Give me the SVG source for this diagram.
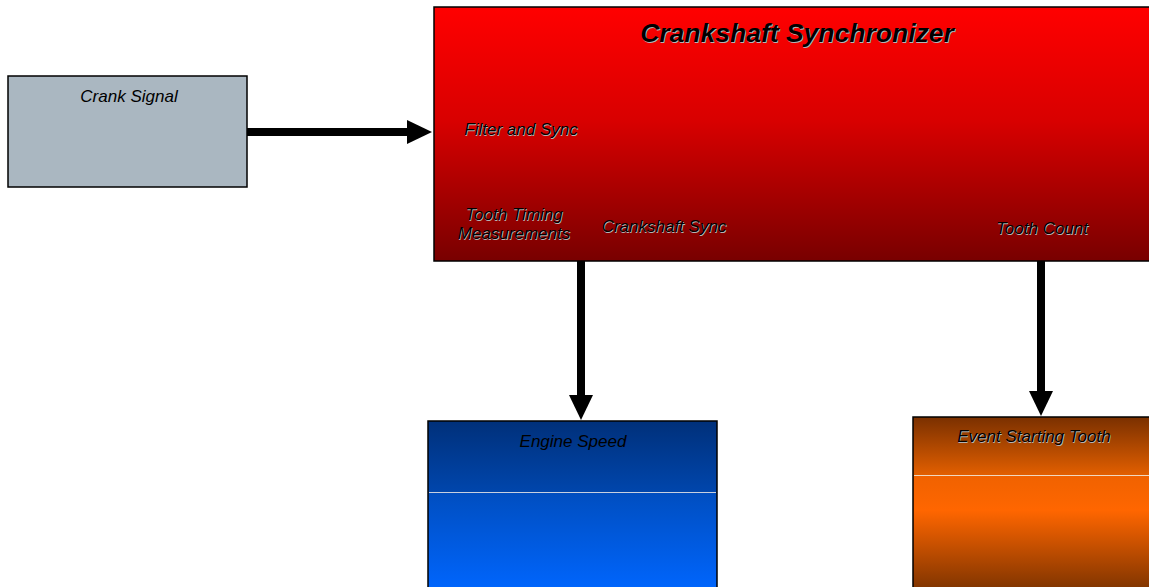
<svg xmlns="http://www.w3.org/2000/svg" width="1149" height="587" viewBox="0 0 1149 587">
<defs>
<linearGradient id="gRed" x1="0" y1="0" x2="0" y2="1"><stop offset="0" stop-color="#ff0000"/><stop offset="0.45" stop-color="#d80000"/><stop offset="1" stop-color="#780000"/></linearGradient>
<linearGradient id="gBlueTop" x1="0" y1="0" x2="0" y2="1"><stop offset="0" stop-color="#00307a"/><stop offset="1" stop-color="#0046ad"/></linearGradient>
<linearGradient id="gBlueBot" x1="0" y1="0" x2="0" y2="1"><stop offset="0" stop-color="#004ec0"/><stop offset="1" stop-color="#0066ff"/></linearGradient>
<linearGradient id="gOrTop" x1="0" y1="0" x2="0" y2="1"><stop offset="0" stop-color="#7a3000"/><stop offset="1" stop-color="#e25f00"/></linearGradient>
<linearGradient id="gOrBot" x1="0" y1="0" x2="0" y2="1"><stop offset="0" stop-color="#f06200"/><stop offset="0.3" stop-color="#ff6600"/><stop offset="1" stop-color="#7a3200"/></linearGradient>
</defs>
<style>
.box{stroke:#000;stroke-width:1.5}
.t{font-family:"Liberation Sans",Arial,sans-serif;font-style:italic;font-size:17px;text-anchor:middle;fill:#000}
.sh{fill:#b4b4b4}
.title{font-size:26.5px;font-weight:bold}
.conn{stroke:#000;stroke-width:8;fill:none}
.head{fill:#000}
</style>
<g id="crank-signal">
<rect class="box" x="8" y="76" width="239" height="111" fill="#aab7c1"/>
<text class="t" x="129" y="102">Crank Signal</text>
</g>
<g id="crankshaft-synchronizer">
<rect class="box" x="434" y="7" width="720" height="254" fill="url(#gRed)"/>
<text class="t title sh" x="798" y="43">Crankshaft Synchronizer</text>
<text class="t title" x="797" y="42">Crankshaft Synchronizer</text>
<text class="t sh" x="521.8" y="135.8">Filter and Sync</text>
<text class="t" x="521" y="135">Filter and Sync</text>
<text class="t sh" x="514.8" y="220.8">Tooth Timing</text>
<text class="t" x="514" y="220">Tooth Timing</text>
<text class="t sh" x="514.8" y="239.8">Measurements</text>
<text class="t" x="514" y="239">Measurements</text>
<text class="t sh" x="664.8" y="232.8">Crankshaft Sync</text>
<text class="t" x="664" y="232">Crankshaft Sync</text>
<text class="t sh" x="1042.8" y="234.8">Tooth Count</text>
<text class="t" x="1042" y="234">Tooth Count</text>
</g>
<g id="engine-speed">
<rect x="428" y="421" width="289" height="72" fill="url(#gBlueTop)"/>
<rect x="428" y="493" width="289" height="100" fill="url(#gBlueBot)"/>
<line x1="429" y1="492.5" x2="716" y2="492.5" stroke="#c8d0e0" stroke-width="1"/>
<rect class="box" x="428" y="421" width="289" height="172" fill="none"/>
<text class="t" x="573" y="447">Engine Speed</text>
</g>
<g id="event-starting-tooth">
<rect x="913" y="417" width="240" height="58" fill="url(#gOrTop)"/>
<rect x="913" y="475" width="240" height="118" fill="url(#gOrBot)"/>
<line x1="914" y1="475.5" x2="1153" y2="475.5" stroke="#f0d8c0" stroke-width="1"/>
<rect class="box" x="913" y="417" width="240" height="176" fill="none"/>
<text class="t sh" x="1034.8" y="442.8">Event Starting Tooth</text>
<text class="t" x="1034" y="442">Event Starting Tooth</text>
</g>
<g id="connectors">
<line class="conn" x1="247" y1="132" x2="409" y2="132"/>
<polygon class="head" points="407,120 432,132 407,144"/>
<line class="conn" x1="581" y1="261" x2="581" y2="397"/>
<polygon class="head" points="569,395 581,420 593,395"/>
<line class="conn" x1="1041" y1="261" x2="1041" y2="393"/>
<polygon class="head" points="1029,391 1041,416 1053,391"/>
</g>
</svg>
